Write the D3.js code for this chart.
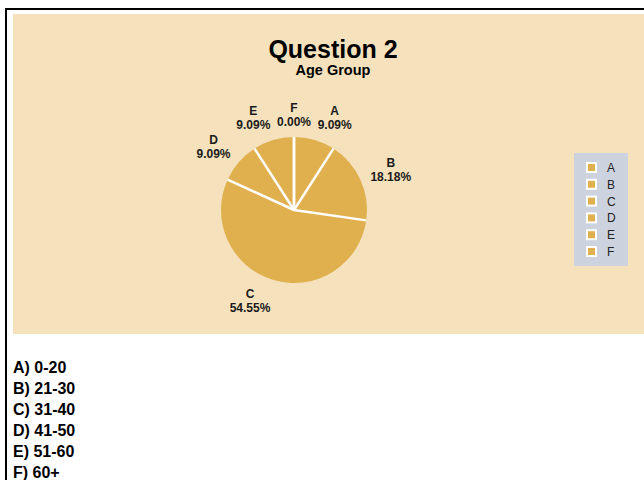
<!DOCTYPE html>
<html><head><meta charset="utf-8">
<script src="https://cdn.jsdelivr.net/npm/d3@7"></script>
<style>body{margin:0;background:#fff;}svg{display:block;}</style>
</head><body>
<script>
const categories = ["A","B","C","D","E","F"];
const values = [9.09, 18.18, 54.55, 9.09, 9.09, 0.00];
const answers = ["A) 0-20","B) 21-30","C) 31-40","D) 41-50","E) 51-60","F) 60+"];
const title = "Question 2", subtitle = "Age Group";

const W = 644, H = 480;
const FONT = "Liberation Sans, Arial, sans-serif";
const svg = d3.select("body").append("svg").attr("width", W).attr("height", H);
svg.append("rect").attr("x",0).attr("y",0).attr("width",W).attr("height",H).attr("fill","#fff");
svg.append("path").attr("d",`M6,${H} V9 H${W}`).attr("fill","none").attr("stroke","#000").attr("stroke-width",2);
svg.append("rect").attr("x",13).attr("y",14).attr("width",W-13).attr("height",320).attr("fill","#f5e2bd");

svg.append("text").attr("x",333).attr("y",58).attr("text-anchor","middle")
  .attr("font-family",FONT).attr("font-weight","bold").attr("font-size",25).attr("fill","#000").text(title);
svg.append("text").attr("x",333).attr("y",75).attr("text-anchor","middle")
  .attr("font-family",FONT).attr("font-weight","bold").attr("font-size",14.5).attr("fill","#000").text(subtitle);

const cx = 294, cy = 210, r = 73;
const data = categories.map((c,i)=>({cat:c, v:values[i]}));
const pie = d3.pie().sort(null).value(d=>d.v);
const arcs = pie(data);
const arc = d3.arc().innerRadius(0).outerRadius(r);
const g = svg.append("g").attr("transform",`translate(${cx},${cy})`);
g.selectAll("path.slice").data(arcs).join("path").attr("class","slice")
  .attr("d",arc).attr("fill","#e0b04f").attr("stroke","none");
g.selectAll("line.sep").data(arcs).join("line").attr("class","sep")
  .attr("x1",0).attr("y1",0)
  .attr("x2",d=>r*Math.sin(d.startAngle)).attr("y2",d=>-r*Math.cos(d.startAngle))
  .attr("stroke","#fff").attr("stroke-width",2.5);

const rx = 84, ry = 95;
const lab = g.selectAll("g.lab").data(arcs).join("g").attr("class","lab");
const t1 = lab.append("text").attr("y",-3.5).attr("text-anchor","middle").attr("font-family",FONT)
  .attr("font-weight","bold").attr("font-size",12).attr("fill","#1a1a1a").text(d=>d.data.cat);
const t2 = lab.append("text").attr("y",10.5).attr("text-anchor","middle").attr("font-family",FONT)
  .attr("font-weight","bold").attr("font-size",12).attr("fill","#1a1a1a").text(d=>d.data.v.toFixed(2)+"%");
lab.attr("transform", function(d){
  const a=(d.startAngle+d.endAngle)/2, s=Math.sin(a), c=Math.cos(a);
  const w = d3.select(this).select("text:nth-child(2)").node().getComputedTextLength();
  let x = rx*s;
  if (s > 0.05) x += w/2; else if (s < -0.05) x -= w/2;
  return `translate(${x},${-ry*c})`;
});

const lg = svg.append("g");
lg.append("rect").attr("x",574).attr("y",153).attr("width",54).attr("height",113).attr("fill","#cdd2df");
const li = lg.selectAll("g.li").data(categories).join("g").attr("class","li")
  .attr("transform",(d,i)=>`translate(586,${162+i*16.8})`);
li.append("rect").attr("x",0).attr("y",0).attr("width",11).attr("height",11).attr("fill","#fff");
li.append("rect").attr("x",2).attr("y",2).attr("width",7).attr("height",7).attr("fill","#e0b04f");
li.append("text").attr("x",21).attr("y",10).attr("font-family",FONT)
  .attr("font-size",12).attr("fill","#222").text(d=>d);

svg.selectAll("text.ans").data(answers).join("text").attr("class","ans")
  .attr("x",13).attr("y",(d,i)=>373+i*21).attr("font-family",FONT)
  .attr("font-weight","bold").attr("font-size",16).attr("fill","#000").text(d=>d);
</script>
</body></html>
